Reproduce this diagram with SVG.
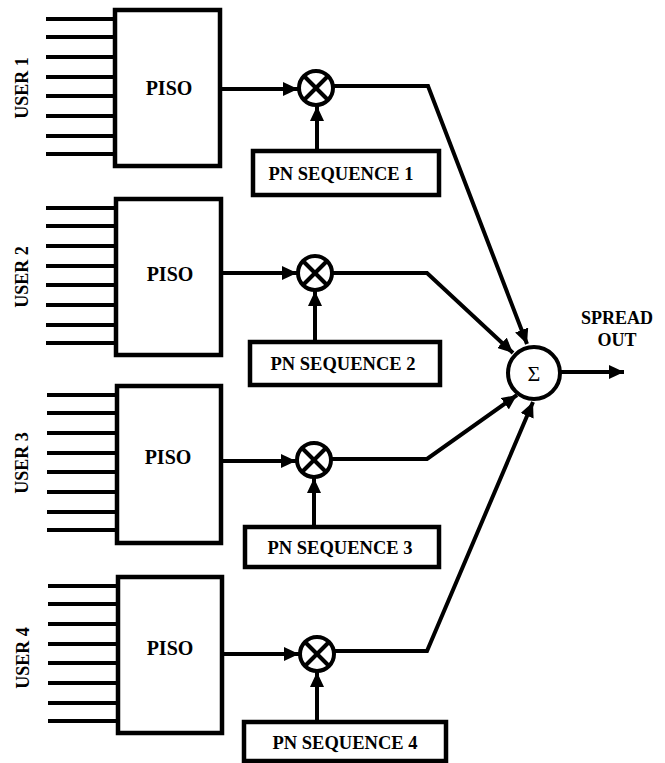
<svg xmlns="http://www.w3.org/2000/svg" width="665" height="763" viewBox="0 0 665 763">
<style>
.box{fill:#fff;stroke:#000;stroke-width:4.5}
.in{stroke:#000;stroke-width:4}
.ln{fill:none;stroke:#000;stroke-width:4;stroke-linejoin:miter}
.arr{marker-end:url(#ah)}
.mc{fill:#fff;stroke:#000;stroke-width:4}
.x{stroke:#000;stroke-width:4}
.t{font-family:'Liberation Serif','Times New Roman',serif;font-weight:bold;fill:#000;text-anchor:middle}
.piso{font-size:20px}
.pn{font-size:18.5px}
.usr{font-size:18px}
</style>
<defs>
<marker id="ah" markerUnits="userSpaceOnUse" markerWidth="16" markerHeight="14" refX="15" refY="7" orient="auto">
<path d="M0,0 L15,7 L0,14 Z" fill="#000"/>
</marker>
<g id="inputs">
<line class="in" x1="0" y1="9" x2="70" y2="9"/>
<line class="in" x1="0" y1="27" x2="70" y2="27"/>
<line class="in" x1="0" y1="47" x2="70" y2="47"/>
<line class="in" x1="0" y1="67" x2="70" y2="67"/>
<line class="in" x1="0" y1="86" x2="70" y2="86"/>
<line class="in" x1="0" y1="106" x2="70" y2="106"/>
<line class="in" x1="0" y1="126" x2="70" y2="126"/>
<line class="in" x1="0" y1="144" x2="70" y2="144"/>
</g>
</defs>

<g id="user1">
<use href="#inputs" x="46" y="10"/>
<rect class="box" x="115" y="10" width="105" height="156"/>
<text class="t piso" x="169" y="95">PISO</text>
<text class="t usr" transform="translate(28,88) rotate(-90)">USER 1</text>
</g>
<g id="user2">
<use href="#inputs" x="46" y="199"/>
<rect class="box" x="116" y="199" width="105" height="156"/>
<text class="t piso" x="170" y="281">PISO</text>
<text class="t usr" transform="translate(28,277) rotate(-90)">USER 2</text>
</g>
<g id="user3">
<use href="#inputs" x="47" y="386"/>
<rect class="box" x="117" y="386" width="104" height="157"/>
<text class="t piso" x="168" y="464">PISO</text>
<text class="t usr" transform="translate(28,463) rotate(-90)">USER 3</text>
</g>
<g id="user4">
<use href="#inputs" x="48" y="577"/>
<rect class="box" x="118" y="577" width="104" height="156"/>
<text class="t piso" x="170" y="655">PISO</text>
<text class="t usr" transform="translate(29,658) rotate(-90)">USER 4</text>
</g>

<g id="pn1">
<rect class="box" x="253" y="151" width="186" height="44"/>
<text class="t pn" x="341" y="180">PN SEQUENCE 1</text>
</g>
<g id="pn2">
<rect class="box" x="250" y="342" width="190" height="43"/>
<text class="t pn" x="343" y="370">PN SEQUENCE 2</text>
</g>
<g id="pn3">
<rect class="box" x="245" y="527" width="194" height="40"/>
<text class="t pn" x="340" y="554">PN SEQUENCE 3</text>
</g>
<g id="pn4">
<rect class="box" x="244" y="722" width="202" height="39"/>
<text class="t pn" x="345" y="749">PN SEQUENCE 4</text>
</g>

<g id="mult1">
<circle class="mc" cx="316" cy="88" r="17"/>
<line class="x" x1="304" y1="76" x2="328" y2="100"/>
<line class="x" x1="328" y1="76" x2="304" y2="100"/>
</g>
<g id="mult2">
<circle class="mc" cx="315" cy="273" r="17"/>
<line class="x" x1="303" y1="261" x2="327" y2="285"/>
<line class="x" x1="327" y1="261" x2="303" y2="285"/>
</g>
<g id="mult3">
<circle class="mc" cx="314" cy="460" r="17"/>
<line class="x" x1="302" y1="448" x2="326" y2="472"/>
<line class="x" x1="326" y1="448" x2="302" y2="472"/>
</g>
<g id="mult4">
<circle class="mc" cx="317" cy="654" r="17"/>
<line class="x" x1="305" y1="642" x2="329" y2="666"/>
<line class="x" x1="329" y1="642" x2="305" y2="666"/>
</g>

<g id="sum">
<circle cx="534" cy="373" r="26" fill="#fff" stroke="#000" stroke-width="4"/>
<text x="534" y="381" font-family="'Liberation Serif','Times New Roman',serif" font-size="22" text-anchor="middle" fill="#000">Σ</text>
</g>
<g id="spread-out">
<text class="t" font-size="18" x="617" y="324">SPREAD</text>
<text class="t" font-size="18" x="617" y="346">OUT</text>
</g>

<g id="connectors">
<line class="ln arr" x1="220" y1="89" x2="298" y2="89"/>
<line class="ln arr" x1="221" y1="273" x2="297" y2="273"/>
<line class="ln arr" x1="221" y1="461" x2="296" y2="461"/>
<line class="ln arr" x1="222" y1="654" x2="299" y2="654"/>
<line class="ln arr" x1="317" y1="151" x2="317" y2="106"/>
<line class="ln arr" x1="315" y1="342" x2="315" y2="291"/>
<line class="ln arr" x1="314" y1="527" x2="314" y2="478"/>
<line class="ln arr" x1="317" y1="722" x2="317" y2="672"/>
<polyline class="ln arr" points="333,86 428,86 527,344"/>
<polyline class="ln arr" points="332,273 427,273 513,353"/>
<polyline class="ln arr" points="331,459 427,459 517,395"/>
<polyline class="ln arr" points="334,651 427,651 533,402"/>
<line class="ln arr" x1="560" y1="372" x2="624" y2="372"/>
</g>
</svg>
